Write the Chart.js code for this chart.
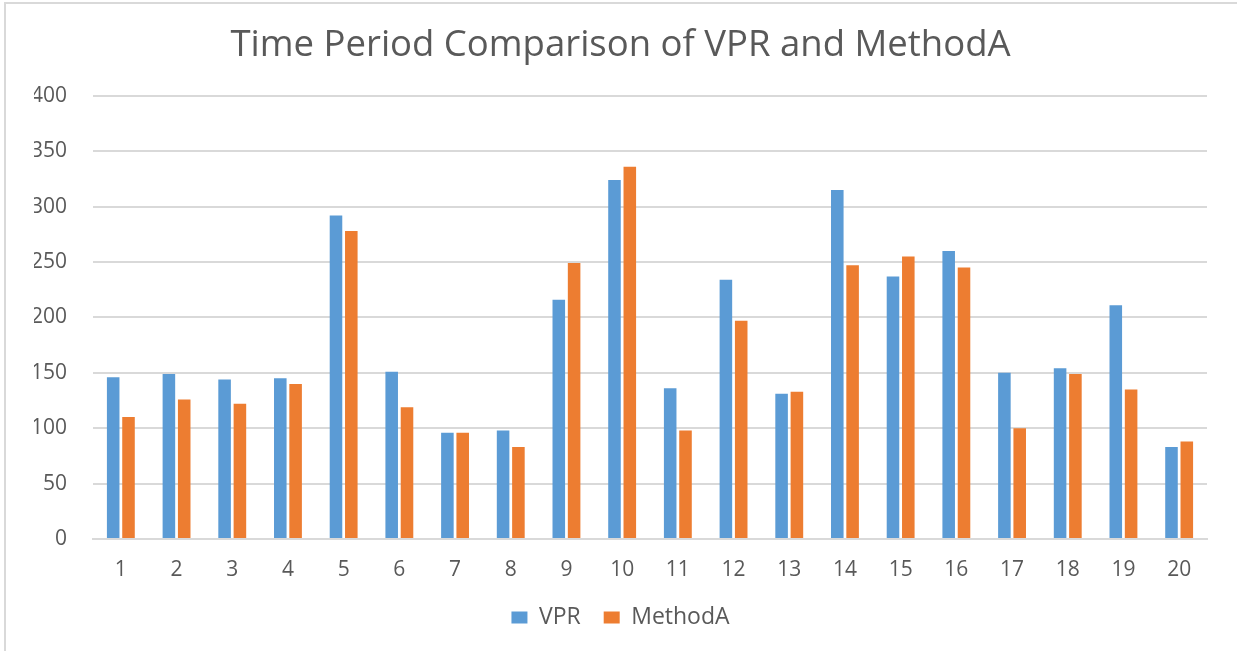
<!DOCTYPE html>
<html>
<head>
<meta charset="utf-8">
<script src="https://cdn.jsdelivr.net/npm/chart.js@4"></script>
<style>
html,body{margin:0;padding:0;background:#fff;}
#wrap{position:absolute;left:0;top:0;width:1237px;height:651px;}
#frame{position:absolute;left:4px;top:2px;width:1240px;height:650px;border-left:2px solid #d9d9d9;border-top:2px solid #d9d9d9;pointer-events:none;}
canvas{position:absolute;left:0;top:0;}
</style>
</head>
<body>
<div id="wrap"><canvas id="c" width="1237" height="651"></canvas><div id="frame"></div></div>
<script>
const categories = ["1","2","3","4","5","6","7","8","9","10","11","12","13","14","15","16","17","18","19","20"];
const vprValues = [146,149,144,145,292,151,96,98,216,324,136,234,131,315,237,260,150,154,211,83];
const methodAValues = [110,126,122,140,278,119,96,83,249,336,98,197,133,247,255,245,100,149,135,88];
const yTicks = [0,50,100,150,200,250,300,350,400];

const textColor = '#595959';
new Chart(document.getElementById('c'), {
  type: 'bar',
  data: {
    labels: categories,
    datasets: [
      {label: 'VPR', data: vprValues, backgroundColor: '#5B9BD5', borderWidth: 0},
      {label: 'MethodA', data: methodAValues, backgroundColor: '#ED7D31', borderWidth: 0}
    ]
  },
  options: {
    responsive: false,
    animation: false,
    devicePixelRatio: 1,
    datasets: {bar: {barPercentage: 0.82, categoryPercentage: 0.55}},
    layout: {padding: {left: 34, right: 30, top: 10, bottom: 12}},
    plugins: {
      title: {
        display: true,
        text: 'Time Period Comparison of VPR and MethodA',
        color: textColor,
        font: {family: 'Open Sans', size: 36.5, weight: 'normal'},
        padding: {top: 14, bottom: 28}
      },
      legend: {
        position: 'bottom',
        labels: {
          color: textColor,
          font: {family: 'Open Sans', size: 23},
          boxWidth: 16, boxHeight: 12,
          padding: 23
        }
      },
      tooltip: {enabled: false}
    },
    scales: {
      x: {
        afterFit: (s) => { s.height = 44; },
        grid: {display: false, drawTicks: false},
        border: {display: true, color: '#d9d9d9', width: 2},
        ticks: {color: textColor, font: {family: 'Open Sans', size: 21}, padding: 18, maxRotation: 0}
      },
      y: {
        min: 0, max: 400,
        afterFit: (s) => { s.width = 59; },
        afterBuildTicks: (axis) => { axis.ticks = yTicks.map(v => ({value: v})); },
        grid: {color: '#d9d9d9', lineWidth: 2, drawTicks: false},
        border: {display: false},
        ticks: {color: textColor, font: {family: 'Open Sans', size: 21}, padding: 26}
      }
    }
  }
});
</script>
</body>
</html>
